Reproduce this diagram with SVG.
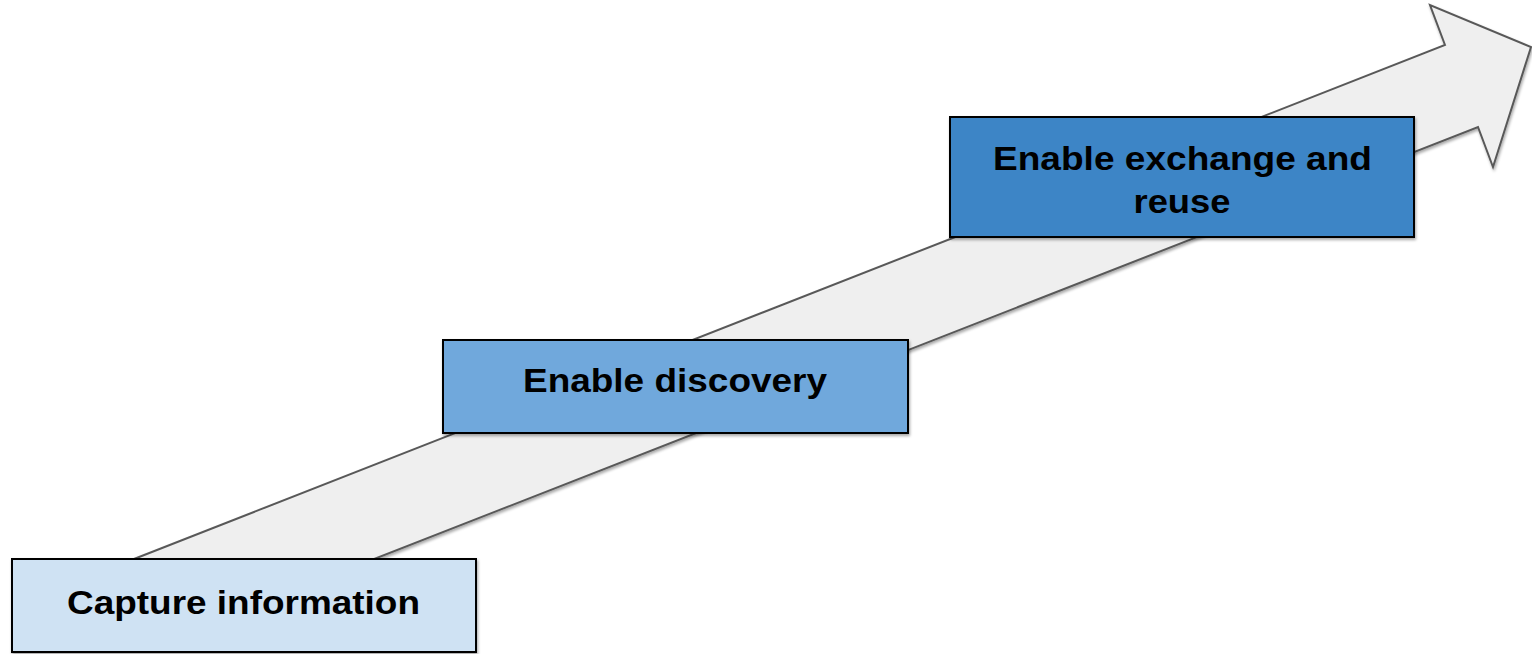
<svg xmlns="http://www.w3.org/2000/svg" width="1532" height="654" viewBox="0 0 1532 654">
  <defs>
    <filter id="shadow" x="-5%" y="-5%" width="115%" height="120%">
      <feGaussianBlur in="SourceAlpha" stdDeviation="1.5"/>
      <feOffset dx="1" dy="2" result="b"/>
      <feComponentTransfer><feFuncA type="linear" slope="0.35"/></feComponentTransfer>
      <feMerge><feMergeNode/><feMergeNode in="SourceGraphic"/></feMerge>
    </filter>
    <style>
      .box { stroke: #000; stroke-width: 2; filter: url(#shadow); }
      .label { font-family: "Liberation Sans", Arial, sans-serif; font-weight: bold; font-size: 33px; fill: #000; text-anchor: middle; }
    </style>
  </defs>
  <rect width="1532" height="654" fill="#fff"/>

  <!-- rising progress arrow behind the steps -->
  <g id="connectors">
    <path d="M 1445 45 L 1430 5 L 1531 47 L 1493 167 L 1478 127 L 300 588 L 60 588 Z"
          fill="#efefef" stroke="#595959" stroke-width="2" stroke-linejoin="miter" filter="url(#shadow)"/>
  </g>

  <g id="capture">
    <rect class="box" x="12" y="559" width="464" height="93" fill="#cfe2f3"/>
    <text class="label" x="243.5" y="614" textLength="353" lengthAdjust="spacingAndGlyphs">Capture information</text>
  </g>

  <g id="discovery">
    <rect class="box" x="443" y="340" width="465" height="93" fill="#6fa8dc"/>
    <text class="label" x="675" y="392" textLength="304" lengthAdjust="spacingAndGlyphs">Enable discovery</text>
  </g>

  <g id="exchange">
    <rect class="box" x="950" y="117" width="464" height="120" fill="#3d85c6"/>
    <text class="label" x="1182.5" y="170" textLength="379" lengthAdjust="spacingAndGlyphs">Enable exchange and</text>
    <text class="label" x="1182" y="213" textLength="97" lengthAdjust="spacingAndGlyphs">reuse</text>
  </g>
</svg>
